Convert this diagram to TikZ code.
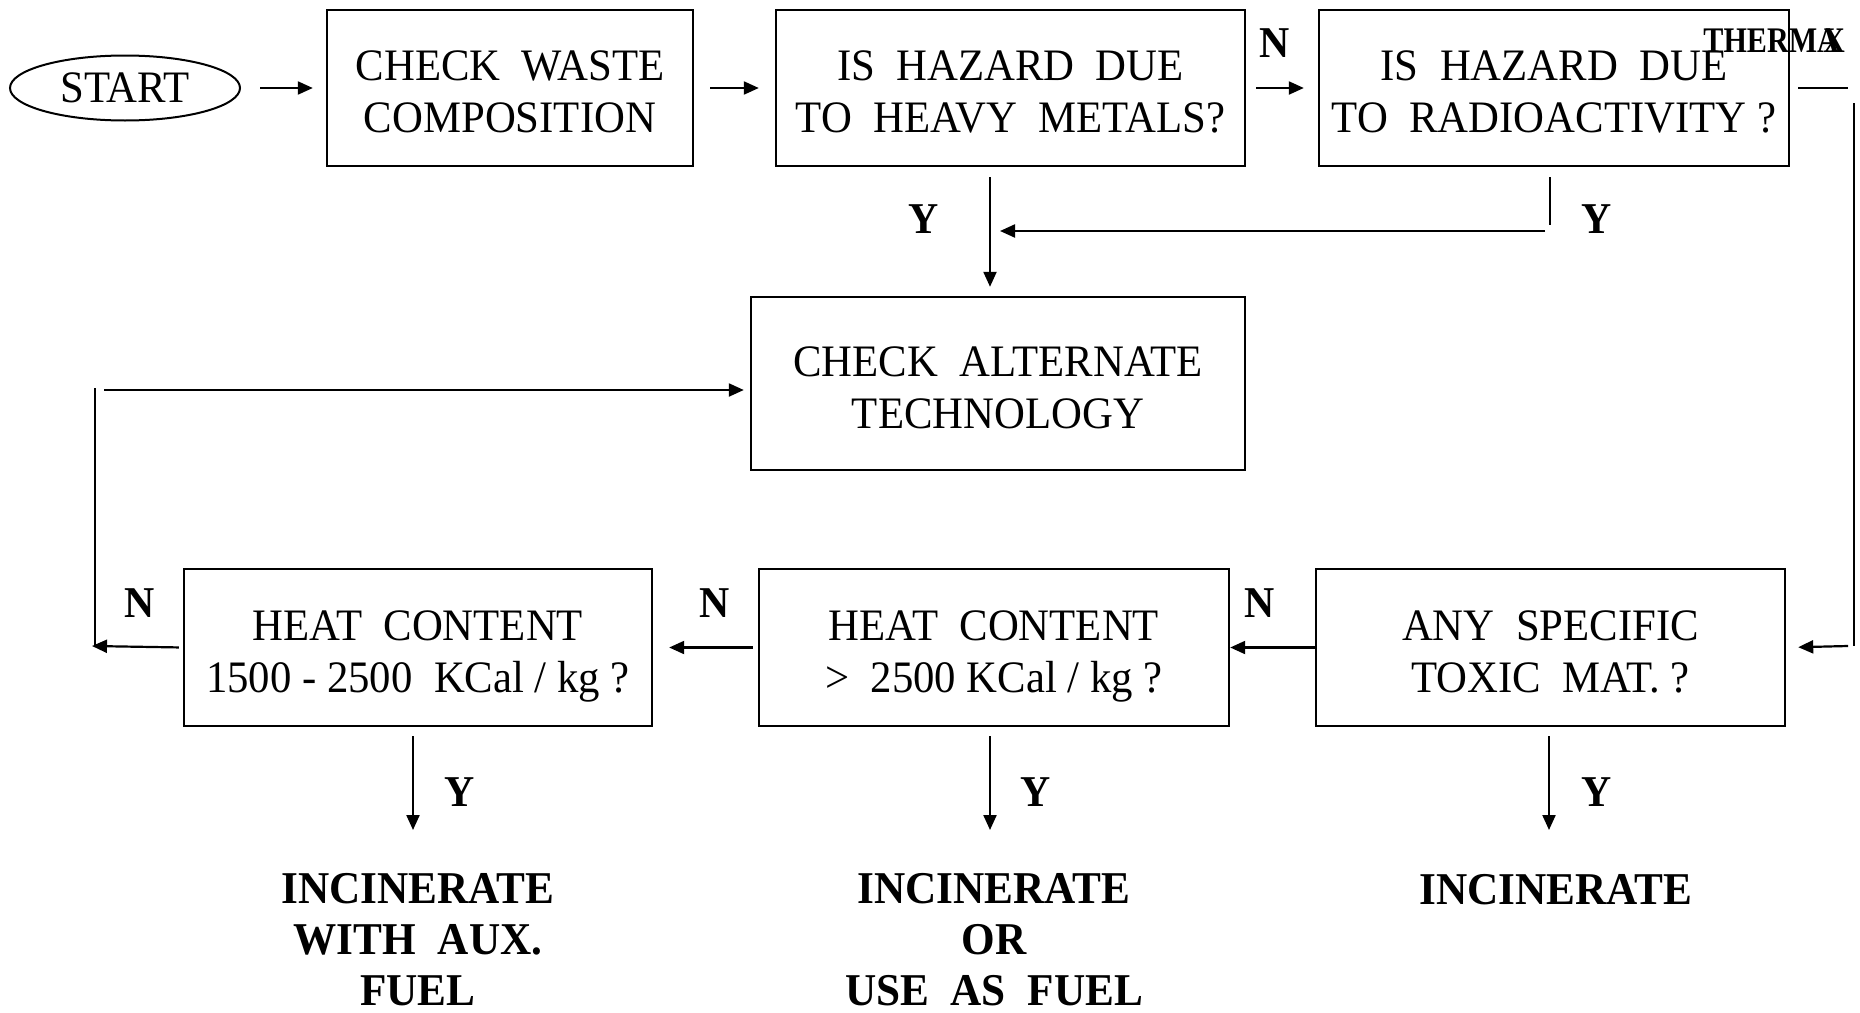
\documentclass[tikz,border=0pt]{standalone}
\usepackage{fontspec}
\setmainfont[FakeStretch=0.95]{Liberation Serif}
\usetikzlibrary{arrows.meta,shapes.geometric}
\newcommand\mystrut{\rule[-4.5pt]{0pt}{46pt}}
\begin{document}
\begin{tikzpicture}[x=1pt,y=-1pt,
  box/.style={draw,line width=2.4pt,rectangle,inner sep=0pt,align=center,font=\fontsize{45}{52}\selectfont},
  arr/.style={line width=2.2pt,-{Triangle[length=15pt,width=13pt]}},
  ln/.style={line width=2.2pt},
  lab/.style={font=\fontsize{44}{50}\selectfont\bfseries,inner sep=0pt},
  res/.style={align=center,inner sep=0pt,font=\fontsize{45.5}{51}\selectfont\bfseries}]
\useasboundingbox (0,0) rectangle (1860,1012);
% nodes
\node[draw,ellipse,line width=2pt,minimum width=230pt,minimum height=65pt,inner sep=0pt,font=\fontsize{45}{52}\selectfont] (start) at (125,88) {START};
\node[box,minimum width=366pt,minimum height=156pt] (c1) at (510,88) {\mystrut CHECK\ \ WASTE\\\mystrut\smash{COMPOSITION}};
\node[box,minimum width=469pt,minimum height=156pt] (h1) at (1010.5,88) {\mystrut IS\ \ HAZARD\ \ DUE\\\mystrut\smash{TO\ \ HEAVY\ \ METALS?}};
\node[box,minimum width=470pt,minimum height=156pt] (h2) at (1554,88) {\mystrut IS\ \ HAZARD\ \ DUE\\\mystrut\smash{TO\ \ RADIOACTIVITY ?}};
\node[box,minimum width=494pt,minimum height=173pt] (c4) at (998,383.5) {\mystrut CHECK\ \ ALTERNATE\\\mystrut\smash{TECHNOLOGY}};
\node[box,minimum width=468pt,minimum height=157pt] (hc1) at (418,647.5) {\mystrut HEAT\ \ CONTENT\\\mystrut\smash{1500 - 2500\ \ KCal / kg ?}};
\node[box,minimum width=470pt,minimum height=157pt] (hc2) at (994,647.5) {\mystrut HEAT\ \ CONTENT\\\mystrut\smash{>\ \ 2500 KCal / kg ?}};
\node[box,minimum width=469pt,minimum height=157pt] (t) at (1550.5,647.5) {\mystrut ANY\ \ SPECIFIC\\\mystrut\smash{TOXIC\ \ MAT. ?}};
\node[res] (r1) at (418,940) {INCINERATE\\WITH\ \ AUX.\\FUEL};
\node[res] (r2) at (994,940) {INCINERATE\\OR\\USE\ \ AS\ \ FUEL};
\node[res] (r3) at (1556,890) {INCINERATE};
\node[font=\fontsize{36}{40}\selectfont\bfseries,inner sep=0pt,anchor=east] (brand) at (1845,41) {\scalebox{0.88}[1]{THERMA\kern-0.5em X}};
% labels
\node[lab] (lN1) at (1275,43) {N};
\node[lab] (lY1) at (924,219) {Y};
\node[lab] (lY2) at (1597,219) {Y};
\node[lab] (lN2) at (140,603) {N};
\node[lab] (lN3) at (715,603) {N};
\node[lab] (lN4) at (1260,603) {N};
\node[lab] (lY3) at (460,792) {Y};
\node[lab] (lY4) at (1036,792) {Y};
\node[lab] (lY5) at (1597,792) {Y};
% helper coordinates
\coordinate (vx) at (990,0);
\coordinate (yv) at (1550,225);
\coordinate (ym) at (1545,231);
\coordinate (rh) at (1848,88);
\coordinate (rt) at (1854,103);
\coordinate (rb) at (1854,646);
\coordinate (ra) at (1848,646);
\coordinate (lb) at (92,646);
\coordinate (lvb) at (95,646);
\coordinate (lvt) at (95,388);
\coordinate (lh) at (104,390);
\coordinate (e1) at (413,830);
\coordinate (e2) at (990,830);
\coordinate (e3) at (1549,830);
% connectors
\draw[arr,shorten <=19pt,shorten >=13pt] (start.east) -- (c1.west);
\draw[arr,shorten <=16pt,shorten >=16pt] (c1.east) -- (h1.west);
\draw[arr,shorten <=10pt,shorten >=14pt] (h1.east) -- (h2.west);
\draw[ln,shorten <=8pt] (h2.east) -- (rh);
\draw[ln] (rt) -- (rb);
\draw[arr,shorten >=12pt] (ra) -- (t.east);
\draw[arr,shorten <=10pt,shorten >=9pt] (h1.south -| vx) -- (c4.north -| vx);
\draw[ln,shorten <=10pt] (h2.south -| yv) -- (yv);
\draw[arr,shorten >=10pt] (ym) -- (vx |- ym);
\draw[arr] (t.west) -- (hc2.east);
\draw[arr,shorten <=5pt,shorten >=16pt] (hc2.west) -- (hc1.east);
\draw[arr,shorten <=4pt] (hc1.west) -- (lb);
\draw[ln] (lvb) -- (lvt);
\draw[arr,shorten >=6pt] (lh) -- (c4.west |- lh);
\draw[arr,shorten <=9pt] (hc1.south -| e1) -- (e1);
\draw[arr,shorten <=9pt] (hc2.south -| e2) -- (e2);
\draw[arr,shorten <=9pt] (t.south -| e3) -- (e3);
\end{tikzpicture}
\end{document}
